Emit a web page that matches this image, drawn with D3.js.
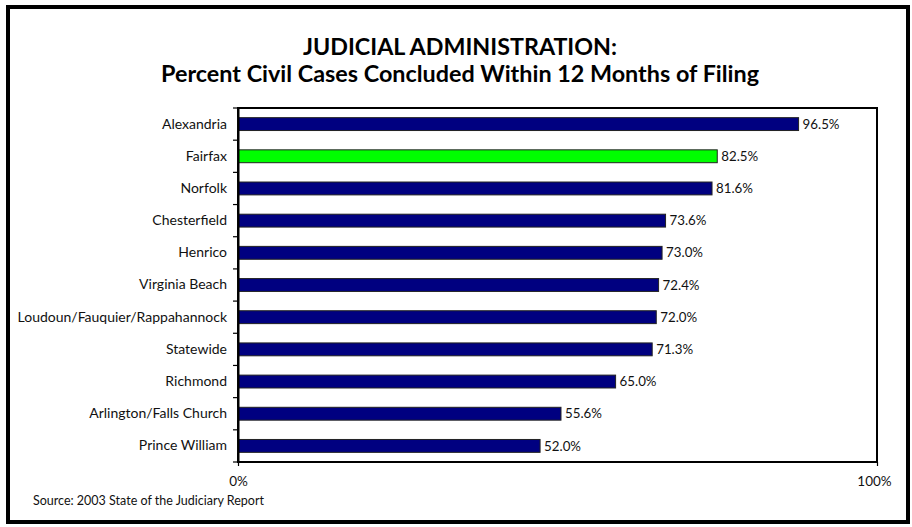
<!DOCTYPE html>
<html>
<head>
<meta charset="utf-8">
<script src="https://cdn.jsdelivr.net/npm/d3@7"></script>
<style>
  html, body { margin: 0; padding: 0; background: #fff; }
  svg { display: block; font-family: Lato, "Open Sans", sans-serif; }
</style>
</head>
<body>
<svg id="chart" width="912" height="527"></svg>
<script>
const titleLines = ["JUDICIAL ADMINISTRATION:", "Percent Civil Cases Concluded Within 12 Months of Filing"];
const categories = ["Alexandria", "Fairfax", "Norfolk", "Chesterfield", "Henrico", "Virginia Beach",
  "Loudoun/Fauquier/Rappahannock", "Statewide", "Richmond", "Arlington/Falls Church", "Prince William"];
const values = [96.5, 82.5, 81.6, 73.6, 73.0, 72.4, 72.0, 71.3, 65.0, 55.6, 52.0];
const highlight = ["Fairfax"];
const axisMax = 110;
const xTickValues = [0, 110];
const xTickLabels = ["0%", "100%"];
const sourceText = "Source: 2003 State of the Judiciary Report";

const svg = d3.select("#chart");
const plot = { left: 238, right: 877, top: 108, bottom: 462 };
const titleWidths = [314, 598];

// outer frame
svg.append("rect").attr("x", 8).attr("y", 7).attr("width", 900).attr("height", 515)
  .attr("fill", "none").attr("stroke", "#000").attr("stroke-width", 4);

// title
svg.append("g").selectAll("text").data(titleLines).join("text")
  .attr("x", 460).attr("y", (d, i) => 55 + i * 27)
  .attr("text-anchor", "middle").attr("font-weight", "bold").attr("font-size", 22)
  .attr("textLength", (d, i) => titleWidths[i]).attr("lengthAdjust", "spacingAndGlyphs")
  .attr("fill", "#000").text(d => d);

const x = d3.scaleLinear().domain([0, axisMax]).range([plot.left, plot.right]);
const y = d3.scaleBand().domain(categories).range([plot.top, plot.bottom])
  .paddingInner(0.6).paddingOuter(0.3);

// plot area border
svg.append("rect").attr("x", plot.left).attr("y", plot.top)
  .attr("width", plot.right - plot.left).attr("height", plot.bottom - plot.top)
  .attr("fill", "#fff").attr("stroke", "#000").attr("stroke-width", 2);

// bars
svg.append("g").selectAll("rect").data(categories).join("rect")
  .attr("x", x(0)).attr("y", d => y(d))
  .attr("width", (d, i) => x(values[i]) - x(0)).attr("height", y.bandwidth())
  .attr("fill", d => highlight.includes(d) ? "#00FF00" : "#000080")
  .attr("stroke", "#222").attr("stroke-width", 1);

// value labels
svg.append("g").selectAll("text").data(categories).join("text")
  .attr("x", (d, i) => x(values[i]) + 4).attr("y", d => y(d) + y.bandwidth() / 2)
  .attr("dy", "0.35em").attr("font-size", 13.3).attr("fill", "#111")
  .text((d, i) => values[i].toFixed(1) + "%");

// y axis labels
const yAxis = svg.append("g").attr("transform", `translate(${plot.left},0)`)
  .call(d3.axisLeft(y).tickSize(0).tickPadding(11));
yAxis.select(".domain").attr("stroke", "#000").attr("stroke-width", 2);
yAxis.selectAll("text").attr("font-size", 14).attr("fill", "#111")
  .attr("font-family", "Lato, 'Open Sans', sans-serif");

// y ticks at band boundaries
const boundaries = d3.range(categories.length + 1).map(i => plot.top + i * (plot.bottom - plot.top) / categories.length);
svg.append("g").selectAll("line").data(boundaries).join("line")
  .attr("x1", plot.left - 5).attr("x2", plot.left).attr("y1", d => d).attr("y2", d => d)
  .attr("stroke", "#000").attr("stroke-width", 1.2);

// x axis
const xAxis = svg.append("g").attr("transform", `translate(0,${plot.bottom})`)
  .call(d3.axisBottom(x).tickValues(xTickValues).tickSize(4).tickPadding(10)
    .tickFormat((d, i) => xTickLabels[i]));
xAxis.select(".domain").remove();
xAxis.selectAll("line").attr("stroke", "#000").attr("stroke-width", 1.2);
xAxis.selectAll("text").attr("font-size", 13.5).attr("fill", "#111")
  .attr("font-family", "Lato, 'Open Sans', sans-serif");
xAxis.selectAll(".tick").filter((d, i) => i === 1).select("text").attr("dx", -3);

// source
svg.append("text").attr("x", 33).attr("y", 505).attr("font-size", 12.5).attr("fill", "#111")
  .text(sourceText);
</script>
</body>
</html>
